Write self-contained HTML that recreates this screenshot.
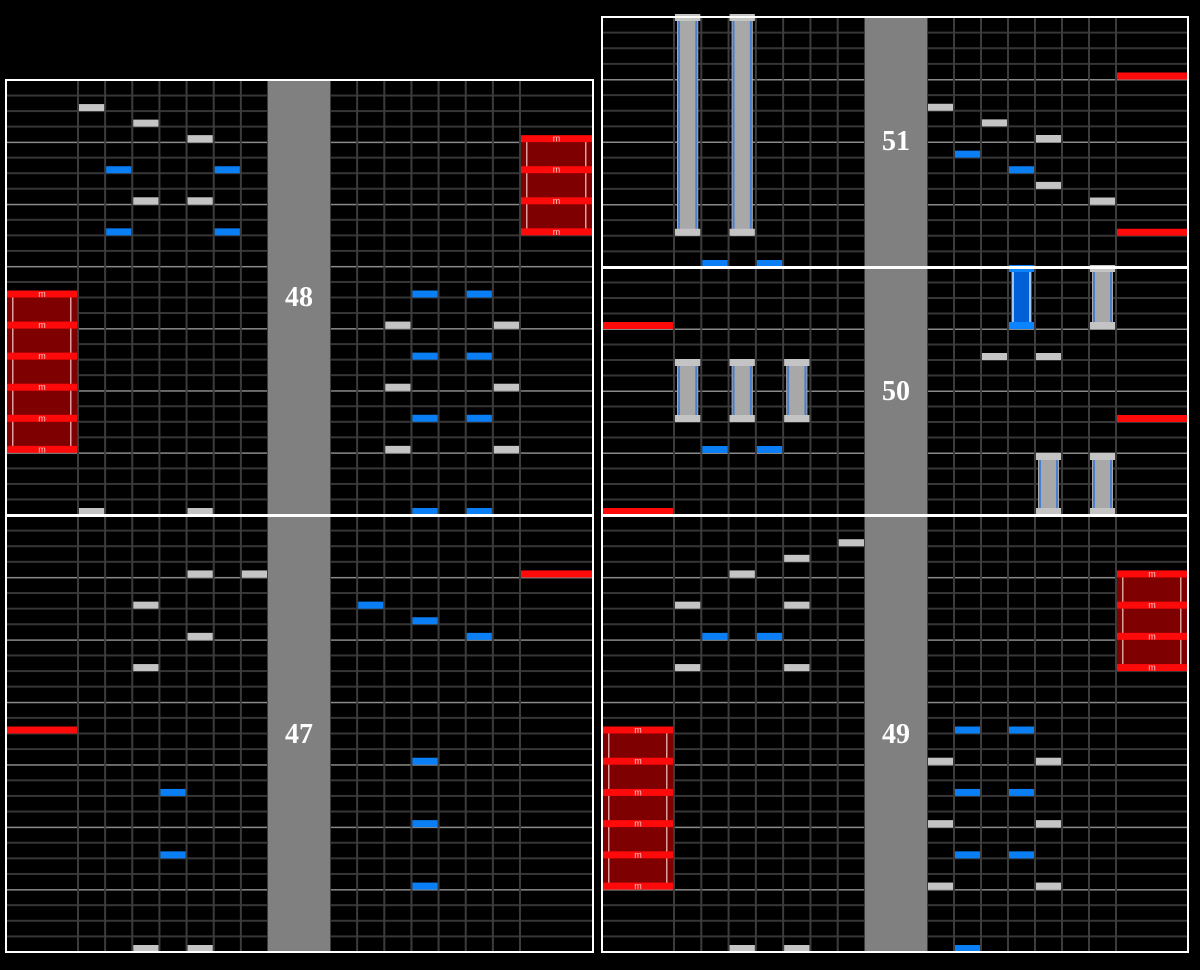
<!DOCTYPE html>
<html><head><meta charset="utf-8"><style>
html,body{margin:0;padding:0;background:#000;}
body{width:1200px;height:970px;overflow:hidden;position:relative;}
svg{position:absolute;left:0;top:0;}
.lbl{position:absolute;width:62px;text-align:center;color:#fff;font-family:"Liberation Serif",serif;font-weight:bold;font-size:28px;line-height:30px;}
</style></head><body>
<svg id="s" width="1200" height="970" xmlns="http://www.w3.org/2000/svg"></svg>
<div class="lbl" style="left:268px;top:283px">48</div>
<div class="lbl" style="left:268px;top:720px">47</div>
<div class="lbl" style="left:865px;top:127px">51</div>
<div class="lbl" style="left:865px;top:377px">50</div>
<div class="lbl" style="left:865px;top:720px">49</div>
<script>
var s=document.getElementById('s'),NS='http://www.w3.org/2000/svg';
function R(x,y,w,h,f){var r=document.createElementNS(NS,'rect');r.setAttribute('x',x);r.setAttribute('y',y);r.setAttribute('width',w);r.setAttribute('height',h);r.setAttribute('fill',f);s.appendChild(r);return r;}
function T(x,y,t){var e=document.createElementNS(NS,'text');e.setAttribute('x',x);e.setAttribute('y',y);e.setAttribute('fill','#f4c8c8');e.setAttribute('font-size','9');e.setAttribute('font-family','Liberation Sans, sans-serif');e.setAttribute('text-anchor','middle');e.textContent=t;s.appendChild(e);}
var P=[
 {x0:6,x1:593,gl:268,gr:330,kl:78,kr:330,sr:520},
 {x0:602,x1:1188,gl:865,gr:927,kl:674,kr:927,sr:1116}
];
function col(p,side,k){ // k:0 scratch, 1..7 keys
 var q=P[p];
 if(side=='L'){ if(k==0) return [q.x0,q.kl-q.x0]; var w=(q.gl-q.kl)/7; return [q.kl+(k-1)*w,w]; }
 if(k==0) return [q.sr,q.x1-q.sr]; var w2=(q.sr-q.kr)/7; return [q.kr+(k-1)*w2,w2];
}
var M={}; // measure geometry
function measure(id,p,y0,y1,rows){
 var q=P[p],h=(y1-y0)/rows; M[id]={p:p,y0:y0,h:h,rows:rows};
 // thin rows
 for(var i=1;i<rows;i++){var y=y0+i*h; if(i%4==0) R(q.x0,y-0.5,q.x1-q.x0,1.5,'#8a8a8a'); else R(q.x0,y-1,q.x1-q.x0,2,'#363636');}
 // column lines
 var xs=[];for(var k=0;k<=7;k++){xs.push(q.kl+k*(q.gl-q.kl)/7);xs.push(q.kr+k*(q.sr-q.kr)/7);}
 xs.forEach(function(x){R(x-1,y0,2,y1-y0,'#3c3c3c');});
 R(q.gl,y0,q.gr-q.gl,y1-y0,'#808080');
}
function yl(id,k){var m=M[id];return m.y0+k*m.h;}
function note(id,side,k,row,c){var m=M[id],cc=col(m.p,side,k),y=yl(id,row);R(cc[0]+1,y-7,cc[1]-2,7,c);}
var G='#c4c4c4',B='#0a7ef4',RD='#ff0a0a';
function charge(id,side,rows){var m=M[id],cc=col(m.p,side,0),a=yl(id,rows[0]),b=yl(id,rows[rows.length-1]);
 R(cc[0]+1,a-4,cc[1]-2,b-a,'#7e0000');R(cc[0]+6,a-4,1.5,b-a,'#e0a0a0');R(cc[0]+cc[1]-8,a-4,1.5,b-a,'#e0a0a0');
 rows.forEach(function(r){var y=yl(id,r);R(cc[0]+1,y-7,cc[1]-2,7,RD);T(cc[0]+cc[1]/2,y-0.5,'m');});}
function ln(id,side,k,r0,r1,blue,y0o){var m=M[id],cc=col(m.p,side,k),a=(y0o!==undefined?y0o:yl(id,r0)),b=yl(id,r1);
 var cap=blue?'#0a84ff':'#c4c4c4',body=blue?'#0060d8':'#a8a8a8',side2=blue?'#9cc4f4':'#4a7fd0';
 R(cc[0]+3,a,cc[1]-6,b-a,body);R(cc[0]+4,a,2,b-a,side2);R(cc[0]+cc[1]-6,a,2,b-a,side2);
 R(cc[0]+1,a-3,cc[1]-2,7,cap);R(cc[0]+1,b-7,cc[1]-2,7,cap);}
// measures
measure(48,0,80,515,28);measure(47,0,515,952,28);
measure(51,1,17,267,16);measure(50,1,267,515,16);measure(49,1,515,952,28);
// 48
note(48,'L',1,2,G);note(48,'L',3,3,G);note(48,'L',5,4,G);
note(48,'L',2,6,B);note(48,'L',6,6,B);note(48,'L',3,8,G);note(48,'L',5,8,G);
note(48,'L',2,10,B);note(48,'L',6,10,B);note(48,'L',1,28,G);note(48,'L',5,28,G);
charge(48,'L',[14,16,18,20,22,24]);
[[14,B],[16,G],[18,B],[20,G],[22,B],[24,G],[28,B]].forEach(function(a){
 if(a[1]==B){note(48,'R',4,a[0],B);note(48,'R',6,a[0],B);}else{note(48,'R',3,a[0],G);note(48,'R',7,a[0],G);}});
charge(48,'R',[4,6,8,10]);
// 47
note(47,'L',5,4,G);note(47,'L',7,4,G);note(47,'L',3,6,G);note(47,'L',5,8,G);note(47,'L',3,10,G);
note(47,'L',0,14,RD);note(47,'L',4,18,B);note(47,'L',4,22,B);note(47,'L',3,28,G);note(47,'L',5,28,G);
note(47,'R',0,4,RD);note(47,'R',2,6,B);note(47,'R',4,7,B);note(47,'R',6,8,B);
note(47,'R',4,16,B);note(47,'R',4,20,B);note(47,'R',4,24,B);
// 51
ln(51,'L',1,0,14,false,17);ln(51,'L',3,0,14,false,17);
note(51,'L',2,16,B);note(51,'L',4,16,B);
note(51,'R',0,4,RD);note(51,'R',0,14,RD);
note(51,'R',1,6,G);note(51,'R',3,7,G);note(51,'R',5,8,G);note(51,'R',2,9,B);note(51,'R',4,10,B);note(51,'R',5,11,G);note(51,'R',7,12,G);
// 50
note(50,'L',0,4,RD);note(50,'L',0,16,RD);
ln(50,'L',1,6,10,false,362);ln(50,'L',3,6,10,false,362);ln(50,'L',5,6,10,false,362);
note(50,'L',2,12,B);note(50,'L',4,12,B);
ln(50,'R',4,0,4,true,268);ln(50,'R',7,0,4,false,268);
note(50,'R',3,6,G);note(50,'R',5,6,G);note(50,'R',0,10,RD);
ln(50,'R',5,12,16,false,456);ln(50,'R',7,12,16,false,456);
// 49
note(49,'L',7,2,G);note(49,'L',5,3,G);note(49,'L',3,4,G);note(49,'L',1,6,G);note(49,'L',5,6,G);
note(49,'L',2,8,B);note(49,'L',4,8,B);note(49,'L',1,10,G);note(49,'L',5,10,G);
charge(49,'L',[14,16,18,20,22,24]);note(49,'L',3,28,G);note(49,'L',5,28,G);
charge(49,'R',[4,6,8,10]);
[[14,B],[16,G],[18,B],[20,G],[22,B],[24,G]].forEach(function(a){
 if(a[1]==B){note(49,'R',2,a[0],B);note(49,'R',4,a[0],B);}else{note(49,'R',1,a[0],G);note(49,'R',5,a[0],G);}});
note(49,'R',2,28,B);
// measure dividers & borders
R(6,514,587,3,'#fff');R(602,266,586,3,'#fff');R(602,514,586,3,'#fff');
function border(x,y,w,h){R(x-1,y-1,w+2,2,'#fff');R(x-1,y+h-1,w+2,2,'#fff');R(x-1,y-1,2,h+2,'#fff');R(x+w-1,y-1,2,h+2,'#fff');}
border(6,80,587,872);border(602,17,586,935);
</script>
</body></html>
